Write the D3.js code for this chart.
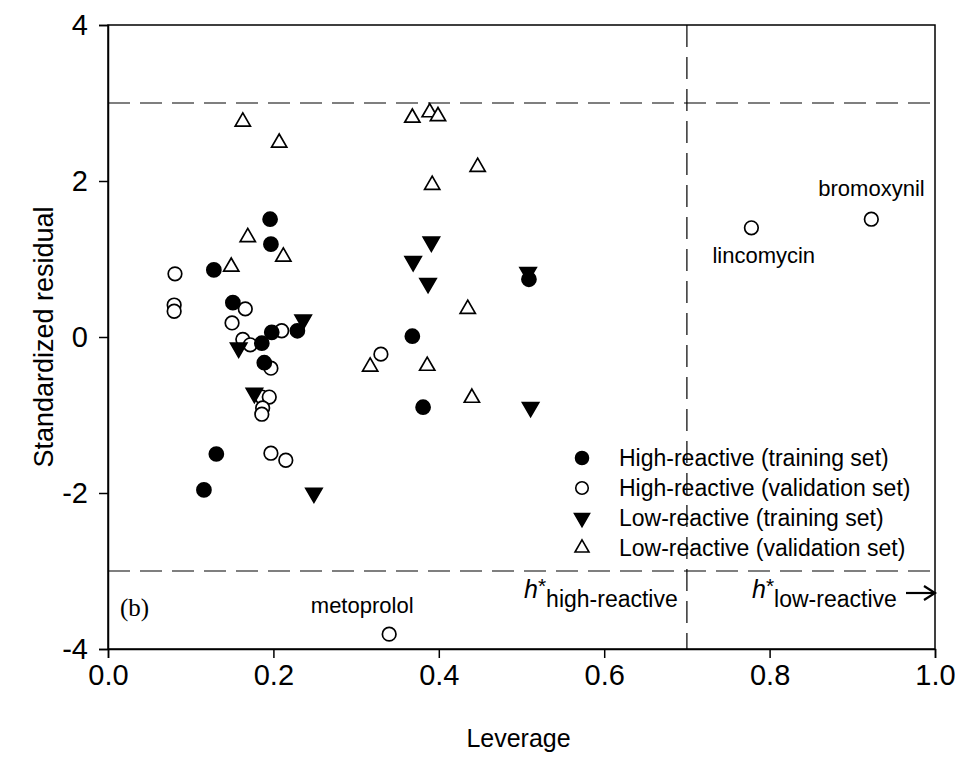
<!DOCTYPE html>
<html><head><meta charset="utf-8">
<script src="https://cdn.jsdelivr.net/npm/d3@7"></script>
<style>
body{margin:0;background:#fff;}
</style></head>
<body>
<svg id="chart" width="955" height="759" font-family="Liberation Sans, Arial, sans-serif"></svg>
<script>
// ---- data ----
const xTicks = [0.0, 0.2, 0.4, 0.6, 0.8, 1.0];
const yTicks = [-4, -2, 0, 2, 4];
const seriesNames = ["High-reactive (training set)", "High-reactive (validation set)", "Low-reactive (training set)", "Low-reactive (validation set)"];

const hiTrainX = [0.128, 0.196, 0.197, 0.151, 0.198, 0.186, 0.229, 0.189, 0.131, 0.116, 0.368, 0.381, 0.509];
const hiTrainY = [0.86, 1.51, 1.19, 0.44, 0.06, -0.08, 0.08, -0.33, -1.50, -1.96, 0.01, -0.90, 0.74];

const hiValX = [0.081, 0.080, 0.080, 0.166, 0.150, 0.163, 0.172, 0.210, 0.197, 0.186, 0.195, 0.187, 0.186, 0.197, 0.215, 0.330, 0.340, 0.778, 0.923];
const hiValY = [0.81, 0.41, 0.33, 0.36, 0.18, -0.03, -0.10, 0.08, -0.40, -0.77, -0.77, -0.91, -0.99, -1.49, -1.58, -0.22, -3.81, 1.40, 1.51];

const loTrainX = [0.158, 0.236, 0.177, 0.249, 0.391, 0.369, 0.387, 0.508, 0.511];
const loTrainY = [-0.14, 0.22, -0.72, -2.00, 1.22, 0.97, 0.69, 0.83, -0.90];

const loValX = [0.163, 0.207, 0.169, 0.212, 0.149, 0.368, 0.389, 0.399, 0.447, 0.392, 0.435, 0.317, 0.386, 0.440];
const loValY = [2.76, 2.49, 1.28, 1.03, 0.90, 2.81, 2.88, 2.83, 2.18, 1.95, 0.36, -0.38, -0.37, -0.78];

const refY = [3, -3];
const refX = [0.7];
const pointLabels = [
  {name: "metoprolol", x: 0.340, y: -3.81},
  {name: "lincomycin", x: 0.778, y: 1.40},
  {name: "bromoxynil", x: 0.923, y: 1.51}
];

// ---- layout ----
const svg = d3.select("#chart");
const L = 108, R = 935, T = 25, B = 649;
const x = d3.scaleLinear().domain([0, 1]).range([L, R]);
const y = d3.scaleLinear().domain([-4, 4]).range([B, T]);

// frame
svg.append("rect").attr("x", L).attr("y", T).attr("width", R - L).attr("height", B - T)
  .attr("fill", "none").attr("stroke", "#000").attr("stroke-width", 1.5);

// axes
const xAxis = svg.append("g").attr("transform", `translate(0,${B})`)
  .call(d3.axisBottom(x).tickValues(xTicks).tickFormat(d => d.toFixed(1)).tickSize(9).tickPadding(6));
const yAxis = svg.append("g").attr("transform", `translate(${L},0)`)
  .call(d3.axisLeft(y).tickValues(yTicks).tickFormat(d => String(d)).tickSize(9).tickPadding(11));
[xAxis, yAxis].forEach(g => {
  g.attr("font-size", 29).attr("font-family", "Liberation Sans, Arial, sans-serif");
  g.select(".domain").attr("stroke-width", 1.5);
  g.selectAll(".tick line").attr("stroke-width", 1.5);
  g.selectAll("text").attr("fill", "#000");
});

// axis titles
svg.append("text").attr("x", (L + R) / 2 - 3).attr("y", 747).attr("text-anchor", "middle")
  .attr("font-size", 25).text("Leverage");
svg.append("text").attr("transform", `translate(53,${(T + B) / 2}) rotate(-90)`)
  .attr("text-anchor", "middle").attr("font-size", 27).text("Standardized residual");

// reference lines
const dash = "22,10";
refY.forEach(v => svg.append("line").attr("x1", L).attr("x2", R).attr("y1", y(v)).attr("y2", y(v))
  .attr("stroke", "#000").attr("stroke-width", 1.2).attr("stroke-dasharray", dash));
refX.forEach(v => svg.append("line").attr("x1", x(v)).attr("x2", x(v)).attr("y1", T).attr("y2", B)
  .attr("stroke", "#000").attr("stroke-width", 1.2).attr("stroke-dasharray", dash));

// markers
const sym = {
  hiTrain: {type: d3.symbolCircle, size: 155, fill: "#000", stroke: "#000", rot: 0},
  hiVal: {type: d3.symbolCircle, size: 145, fill: "#fff", stroke: "#000", rot: 0},
  loTrain: {type: d3.symbolTriangle, size: 115, fill: "#000", stroke: "#000", rot: 180},
  loVal: {type: d3.symbolTriangle, size: 100, fill: "#fff", stroke: "#000", rot: 0}
};
function drawSeries(xs, ys, s) {
  const g = svg.append("g");
  g.selectAll("path").data(xs.map((d, i) => [d, ys[i]])).join("path")
    .attr("d", d3.symbol().type(s.type).size(s.size))
    .attr("transform", d => `translate(${x(d[0])},${y(d[1])}) rotate(${s.rot})`)
    .attr("fill", s.fill).attr("stroke", s.stroke).attr("stroke-width", 1.7);
}
drawSeries(loValX, loValY, sym.loVal);
drawSeries(hiValX, hiValY, sym.hiVal);
drawSeries(hiTrainX, hiTrainY, sym.hiTrain);
drawSeries(loTrainX, loTrainY, sym.loTrain);

// point labels
const lab = pointLabels;
svg.append("text").attr("x", x(lab[0].x) - 27).attr("y", y(lab[0].y) - 21).attr("text-anchor", "middle")
  .attr("font-size", 22).text(lab[0].name);
svg.append("text").attr("x", x(lab[1].x) - 39).attr("y", y(lab[1].y) + 35).attr("font-size", 22).text(lab[1].name);
svg.append("text").attr("x", x(lab[2].x) - 53).attr("y", y(lab[2].y) - 23).attr("font-size", 22).text(lab[2].name);

// legend
const legKeys = ["hiTrain", "hiVal", "loTrain", "loVal"];
const legX = 582, legY0 = 458, legDy = 30;
legKeys.forEach((k, i) => {
  const s = sym[k];
  svg.append("path").attr("d", d3.symbol().type(s.type).size(s.size * 0.85))
    .attr("transform", `translate(${legX},${legY0 + i * legDy}) rotate(${s.rot})`)
    .attr("fill", s.fill).attr("stroke", s.stroke).attr("stroke-width", 1.6);
  svg.append("text").attr("x", 619).attr("y", legY0 + i * legDy + 8).attr("font-size", 23).text(seriesNames[i]);
});

// h* labels
function hstar(xp, sub) {
  const t = svg.append("text").attr("x", xp).attr("y", 598).attr("font-size", 25);
  t.append("tspan").attr("font-style", "italic").text("h");
  t.append("tspan").attr("dy", -5).attr("font-size", 21).text("*");
  t.append("tspan").attr("dy", 14).attr("font-size", 23).text(sub);
}
hstar(524, "high-reactive");
hstar(752, "low-reactive");
// arrow
svg.append("line").attr("x1", 906).attr("x2", 933).attr("y1", 593).attr("y2", 593).attr("stroke", "#000").attr("stroke-width", 2.2);
svg.append("path").attr("d", "M924,586 L935,593 L924,600").attr("fill", "none").attr("stroke", "#000").attr("stroke-width", 2.2);

// panel label
svg.append("text").attr("x", 120).attr("y", 616).attr("font-family", "Liberation Serif, Times New Roman, serif")
  .attr("font-size", 25).text("(b)");
</script>
</body></html>
